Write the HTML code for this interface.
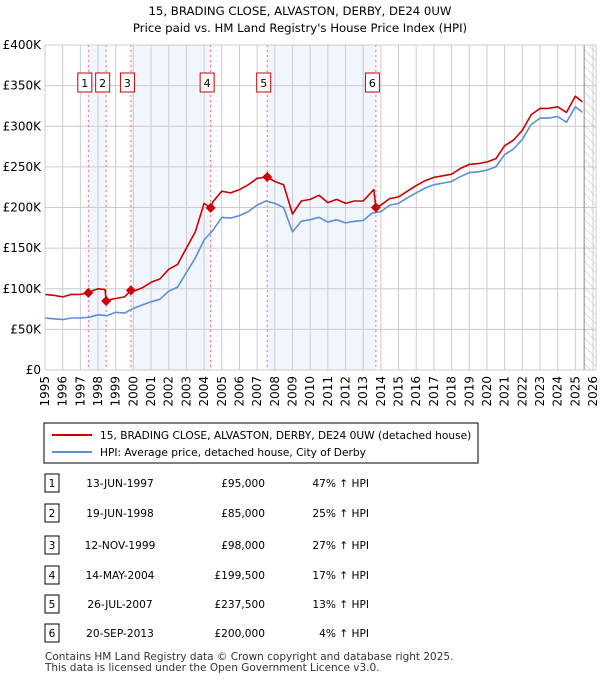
<!DOCTYPE html>
<html><head><meta charset="utf-8"><style>
body{margin:0;background:#fff;font-family:"Liberation Sans","DejaVu Sans",sans-serif;}
svg text{font-family:"DejaVu Sans","Liberation Sans",sans-serif;}
</style></head><body>
<svg id="c" width="600" height="680" xmlns="http://www.w3.org/2000/svg">
<defs><pattern id="hatch" width="6" height="6" patternUnits="userSpaceOnUse" patternTransform="rotate(-45)"><line x1="0" y1="0" x2="0" y2="6" stroke="#bbb" stroke-width="1"/></pattern></defs>
<text x="300" y="15" text-anchor="middle" font-size="11.7">15, BRADING CLOSE, ALVASTON, DERBY, DE24 0UW</text>
<text x="300" y="32" text-anchor="middle" font-size="11.7">Price paid vs. HM Land Registry's House Price Index (HPI)</text>
<g id="plot"></g>
<rect x="44" y="423" width="434" height="40" fill="#fff" stroke="#000" stroke-width="1"/>
<line x1="52" y1="435" x2="92" y2="435" stroke="#cc0000" stroke-width="2"/>
<text x="100" y="439" font-size="10.6">15, BRADING CLOSE, ALVASTON, DERBY, DE24 0UW (detached house)</text>
<line x1="52" y1="452" x2="92" y2="452" stroke="#5b8fd4" stroke-width="2"/>
<text x="100" y="456" font-size="10.6">HPI: Average price, detached house, City of Derby</text>
<g id="table"></g>
<text x="45" y="660" font-size="10.5" fill="#333">Contains HM Land Registry data © Crown copyright and database right 2025.</text>
<text x="45" y="671" font-size="10.5" fill="#333">This data is licensed under the Open Government Licence v3.0.</text>
</svg>
<script>
const hpiYears=[1995,1995.5,1996,1996.5,1997,1997.5,1998,1998.5,1999,1999.5,2000,2000.5,2001,2001.5,2002,2002.5,2003,2003.5,2004,2004.5,2005,2005.5,2006,2006.5,2007,2007.5,2008,2008.5,2009,2009.5,2010,2010.5,2011,2011.5,2012,2012.5,2013,2013.5,2014,2014.5,2015,2015.5,2016,2016.5,2017,2017.5,2018,2018.5,2019,2019.5,2020,2020.5,2021,2021.5,2022,2022.5,2023,2023.5,2024,2024.5,2025,2025.4];
const hpiValues=[64,63,62,64,64,65,68,67,71,70,76,80,84,87,97,102,120,138,160,172,188,187,190,195,203,208,205,200,170,183,185,188,182,185,181,183,184,193,195,203,205,212,218,224,228,230,232,238,243,244,246,250,265,272,284,302,310,310,312,305,324,317];
const redYears=[1995,1995.5,1996,1996.5,1997,1997.45,1997.5,1998,1998.4,1998.46,1998.5,1999,1999.5,1999.86,2000,2000.5,2001,2001.5,2002,2002.5,2003,2003.5,2004,2004.37,2004.5,2005,2005.5,2006,2006.5,2007,2007.57,2008,2008.5,2009,2009.5,2010,2010.5,2011,2011.5,2012,2012.5,2013,2013.6,2013.72,2014,2014.5,2015,2015.5,2016,2016.5,2017,2017.5,2018,2018.5,2019,2019.5,2020,2020.5,2021,2021.5,2022,2022.5,2023,2023.5,2024,2024.5,2025,2025.4];
const redValues=[93,92,90,93,93,95,96,100,99,85,86,88,90,98,97,101,108,112,124,130,150,170,205,199.5,207,220,218,222,228,236,237.5,232,228,192,208,210,215,206,210,205,208,208,222,200,203,211,213,220,227,233,237,239,241,248,253,254,256,260,276,283,295,314,322,322,324,317,337,330];
const saleLabels=["1","2","3","4","5","6"];
const saleYears=[1997.45,1998.46,1999.86,2004.37,2007.57,2013.72];
const salePrices=[95,85,98,199.5,237.5,200];
const saleDates=["13-JUN-1997","19-JUN-1998","12-NOV-1999","14-MAY-2004","26-JUL-2007","20-SEP-2013"];
const salePriceText=["£95,000","£85,000","£98,000","£199,500","£237,500","£200,000"];
const salePct=["47% ↑ HPI","25% ↑ HPI","27% ↑ HPI","17% ↑ HPI","13% ↑ HPI","4% ↑ HPI"];
const yTicks=[0,50,100,150,200,250,300,350,400];
const yTickLabels=["£0","£50K","£100K","£150K","£200K","£250K","£300K","£350K","£400K"];
const xTicks=[1995,1996,1997,1998,1999,2000,2001,2002,2003,2004,2005,2006,2007,2008,2009,2010,2011,2012,2013,2014,2015,2016,2017,2018,2019,2020,2021,2022,2023,2024,2025,2026];

const NS="http://www.w3.org/2000/svg";
const L=45,R=593,T=45,B=370;
const X=y=>L+(y-1995)*(R-L)/31;
const Y=v=>B-(v/400)*(B-T);
const g=document.getElementById('plot');
function mk(tag,attrs,parent){const e=document.createElementNS(NS,tag);for(const k in attrs)e.setAttribute(k,attrs[k]);(parent||g).appendChild(e);return e;}
for(let i=0;i<saleYears.length-1;i+=2){
  const r=mk('rect',{x:X(saleYears[i]),y:T,width:X(saleYears[i+1])-X(saleYears[i]),height:B-T,fill:'#eef3fd',opacity:0.8});
  
  
}
const h=mk('rect',{x:X(2025.5),y:T,width:R-X(2025.5)+2,height:B-T,fill:'url(#hatch)'});


xTicks.forEach(t=>{
  const l=mk('line',{x1:X(t),x2:X(t),y1:T,y2:B,stroke:'#cccccc','stroke-width':1});
  
  
  const tx=mk('text',{x:0,y:0,'font-size':12,'text-anchor':'end',transform:`translate(${X(t)+4},${B+6}) rotate(-90)`});
  tx.textContent=t;
  
  
});
yTicks.forEach((t,i)=>{
  const l=mk('line',{x1:L,x2:R+3,y1:Y(t),y2:Y(t),stroke:'#cccccc','stroke-width':1});
  
  
  const tx=mk('text',{x:L-4,y:Y(t)+4,'font-size':12,'text-anchor':'end'});
  tx.textContent=yTickLabels[i];
  
  
});
const ln=mk('line',{x1:X(2025.5),x2:X(2025.5),y1:T,y2:B,stroke:'#888','stroke-width':1});


saleYears.forEach((s,i)=>{
  const l=mk('line',{x1:X(s),x2:X(s),y1:T,y2:B,stroke:'#ff6666','stroke-width':1,'stroke-dasharray':'2,3'});
  
  
  const bx=X(s)-3.5;
  const r=mk('rect',{x:bx-7,y:73,width:14,height:19,fill:'#fff',stroke:'#cc0000','stroke-width':1});
  
  
  const t=mk('text',{x:bx,y:87,'font-size':11,'text-anchor':'middle'});
  t.textContent=saleLabels[i];
  
  
});
function path(xs,vs,color,name){
  const d=xs.map((x,i)=>(i?'L':'M')+X(x).toFixed(1)+','+Y(vs[i]).toFixed(1)).join('');
  const p=mk('path',{d:d,fill:'none',stroke:color,'stroke-width':1.6,'stroke-linejoin':'round'});
  
  
}
path(hpiYears,hpiValues,'#5b8fd4','hpi-line');
path(redYears,redValues,'#cc0000','property-price-line');
saleYears.forEach((s,i)=>{
  const x=X(s),y=Y(salePrices[i]);
  const p=mk('path',{d:`M${x-5},${y}L${x},${y-5}L${x+5},${y}L${x},${y+5}Z`,fill:'#cc0000'});
  
  
});
mk('rect',{x:L,y:T,width:R-L+3,height:B-T,fill:'none',stroke:'#cccccc','stroke-width':1});
const tb=document.getElementById('table');
const rowY=[483,513,545,575,604,633];
saleLabels.forEach((lab,i)=>{
  const y=rowY[i];
  const r=mk('rect',{x:45,y:y-9,width:14,height:18,fill:'#fff',stroke:'#000','stroke-width':1},tb);
  
  
  const items=[[52,'middle',lab,'table-row-number'],[120,'middle',saleDates[i],'table-date'],[265,'end',salePriceText[i],'table-price'],[369,'end',salePct[i],'table-hpi-change']];
  items.forEach(it=>{
    const t=mk('text',{x:it[0],y:y+4,'font-size':10.6,'text-anchor':it[1]},tb);
    t.textContent=it[2];
    
    
  });
});
</script>
</body></html>
